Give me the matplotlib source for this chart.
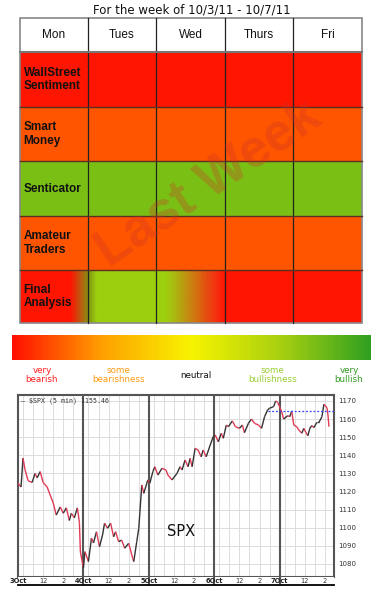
import numpy as np
import matplotlib
matplotlib.use("Agg")
import matplotlib.pyplot as plt
from matplotlib.patches import Rectangle
from matplotlib.collections import LineCollection
from matplotlib.colors import LinearSegmentedColormap

W, H = 378, 593

title = "For the week of 10/3/11 - 10/7/11"
days = ["Mon", "Tues", "Wed", "Thurs", "Fri"]
indicators = ["WallStreet\nSentiment", "Smart\nMoney", "Senticator", "Amateur\nTraders", "Final\nAnalysis"]

RED, ORANGE, GREEN, YGREEN = "#ff1500", "#ff5500", "#7ac014", "#9cd00e"
# each cell: list of colours spread evenly from its left edge to its right edge
cell_colors = [
    [[RED]] * 5,
    [[ORANGE]] * 5,
    [[GREEN]] * 5,
    [[ORANGE]] * 5,
    [
        [RED, RED, RED, RED, RED, RED, RED, "#c85010", "#8a8c12"],
        ["#7e9412", YGREEN, YGREEN, YGREEN, YGREEN, YGREEN, YGREEN, YGREEN, YGREEN],
        [YGREEN, YGREEN, "#aabc10", "#b8a010", "#c88410", "#d86810", "#e84a10", "#f43010", RED],
        [RED],
        [RED],
    ],
]

scale_colors = ["#ff1000", "#ffa000", "#f8f400", "#a8d010", "#30a020"]
scale_labels = ["very\nbearish", "some\nbearishness", "neutral", "some\nbullishness", "very\nbullish"]
scale_label_colors = ["#ff2020", "#ff9a10", "#111111", "#99cc33", "#339922"]

# SPX 5 min, hours since Monday 9:30 open
t_mon = [0.0, 0.3, 0.5, 0.7, 1.0, 1.4, 1.7, 1.9, 2.2, 2.5, 2.9, 3.2, 3.5, 3.8, 4.2, 4.5, 4.8, 5.1, 5.3, 5.6, 5.9, 6.1, 6.2, 6.5]
p_mon = [1124.7, 1122.5, 1138.5, 1132, 1126, 1125, 1130, 1127.5, 1131, 1125, 1122.5, 1118, 1113.7, 1107, 1111.5, 1108, 1111, 1104, 1108, 1105.5, 1111, 1103, 1086.6, 1077.8]
t_tue = [6.65, 7.0, 7.3, 7.5, 7.8, 8.1, 8.4, 8.6, 8.9, 9.2, 9.5, 9.7, 10.0, 10.3, 10.6, 11.0, 11.4, 11.5, 11.8, 12.0, 12.3, 12.5, 12.8]
p_tue = [1086.8, 1081.3, 1094.3, 1091.6, 1097.8, 1089.5, 1096, 1102.5, 1099.7, 1102.5, 1095, 1097.8, 1092.3, 1093.2, 1088.7, 1091.4, 1083.1, 1081.3, 1092.3, 1099.7, 1123.6, 1119, 1124.6]
t_wed = [12.9, 13.1, 13.4, 13.6, 13.9, 14.3, 14.7, 14.9, 15.3, 15.8, 16.1, 16.3, 16.6, 16.9, 17.1, 17.3, 17.6, 17.9, 18.2, 18.4, 18.7, 19.1, 19.4]
p_wed = [1126.4, 1124.6, 1131, 1133.7, 1129.1, 1132.8, 1131.9, 1129.1, 1126.4, 1130, 1133.7, 1131.9, 1137.4, 1133.7, 1138.3, 1133.7, 1143.9, 1142.9, 1139.2, 1142.9, 1139.2, 1145.7, 1150.3]
t_thu = [19.6, 19.9, 20.2, 20.4, 20.7, 20.9, 21.3, 21.6, 22.0, 22.3, 22.5, 22.9, 23.2, 23.5, 23.9, 24.2, 24.5, 24.8, 25.0, 25.4, 25.6, 25.8]
p_thu = [1151.2, 1147.5, 1152.2, 1149.4, 1156.7, 1155.8, 1159, 1155.8, 1154.9, 1156.7, 1152.5, 1157.7, 1160, 1157.7, 1156.7, 1154.9, 1161.3, 1165, 1166, 1166.9, 1170, 1169.3]
t_fri = [26.2, 26.4, 26.8, 27.0, 27.2, 27.4, 27.7, 27.9, 28.2, 28.4, 28.6, 28.8, 29.0, 29.2, 29.4, 29.7, 29.9, 30.2, 30.4, 30.7, 30.8, 30.9]
p_fri = [1164.1, 1160, 1161.9, 1161.3, 1164.5, 1156.7, 1155.8, 1154, 1152.2, 1154.9, 1152.7, 1150.8, 1154.9, 1156.4, 1155.3, 1158.2, 1158.2, 1161.3, 1168.2, 1166.3, 1162.3, 1155.8]
day_starts = [0, 6.5, 13, 19.5, 26]
day_labels = ["3Oct", "4Oct", "5Oct", "6Oct", "7Oct"]
resistance = 1164.7
resistance_from = 24.8
last_price = 1155.46
yticks = [1080, 1090, 1100, 1110, 1120, 1130, 1140, 1150, 1160, 1170]

fig = plt.figure(figsize=(W / 100, H / 100), dpi=100)
fig.patch.set_facecolor("white")
ov = fig.add_axes([0, 0, 1, 1])
ov.set_xlim(0, W)
ov.set_ylim(H, 0)
ov.axis("off")

ov.text(192, 10, title, ha="center", va="center", fontsize=8.5, family="DejaVu Sans", color="#111111")

# table
col_x = [20, 88, 156, 225, 293, 362]
row_y = [18, 52, 107, 161, 216, 270, 323]
for r, row in enumerate(cell_colors):
    y0, y1 = row_y[r + 1], row_y[r + 2]
    for c, cols in enumerate(row):
        x0, x1 = col_x[c], col_x[c + 1]
        if len(cols) == 1:
            ov.add_patch(Rectangle((x0, y0), x1 - x0, y1 - y0, facecolor=cols[0], edgecolor="none"))
        else:
            cmap = LinearSegmentedColormap.from_list("g", cols)
            ov.imshow(np.linspace(0, 1, 200)[None, :], cmap=cmap, extent=(x0, x1, y1, y0),
                      aspect="auto", interpolation="bilinear")
    ov.text(col_x[0] + 3.5, (y0 + y1) / 2, indicators[r], ha="left", va="center", fontsize=8.5,
            fontweight="bold", family="Liberation Sans", linespacing=1.2, color="#111111")

for c, d in enumerate(days):
    ov.text((col_x[c] + col_x[c + 1]) / 2, (row_y[0] + row_y[1]) / 2, d, ha="center", va="center",
            fontsize=8.5, family="Liberation Sans", color="#111111")

for x in col_x[1:-1]:
    ov.plot([x, x], [row_y[0], row_y[-1]], color="#222222", lw=0.9)
for y in row_y[2:-1]:
    ov.plot([col_x[0], col_x[-1]], [y, y], color="#5a3020", lw=1.0)
ov.plot([col_x[0], col_x[-1]], [row_y[1], row_y[1]], color="#777777", lw=1.5)
ov.add_patch(Rectangle((col_x[0], row_y[0]), col_x[-1] - col_x[0], row_y[-1] - row_y[0],
                       facecolor="none", edgecolor="#888888", lw=1.2))

ov.text(208, 183, "Last Week", rotation=34, ha="center", va="center", fontsize=38, fontweight="bold",
        family="Liberation Sans", color=(0.8, 0.2, 0.15), alpha=0.3)

# sentiment scale
scale_cmap = LinearSegmentedColormap.from_list("scale", scale_colors)
ov.imshow(np.linspace(0, 1, 300)[None, :], cmap=scale_cmap, extent=(12, 371, 360, 335),
          aspect="auto", interpolation="bilinear")
for i, (lab, col) in enumerate(zip(scale_labels, scale_label_colors)):
    x = 42 + i * (349 - 42) / 4
    ov.text(x, 375, lab, ha="center", va="center", fontsize=6.3, color=col,
            family="DejaVu Sans", linespacing=1.05)
ov.set_xlim(0, W)
ov.set_ylim(H, 0)

# SPX chart
t = np.array(t_mon + t_tue + t_wed + t_thu + t_fri)
p = np.array(p_mon + p_tue + p_wed + p_thu + p_fri)
ax = fig.add_axes([18 / W, 1 - 577 / H, (334 - 18) / W, (577 - 395) / H])
pts = np.column_stack([t, p])
segs = np.stack([pts[:-1], pts[1:]], axis=1)
colors = ["#e03a55" if b < a else "#333333" for a, b in zip(p[:-1], p[1:])]
ax.add_collection(LineCollection(segs, colors=colors, linewidths=1.0, zorder=3))
xmax = 31.4
ax.set_xlim(0, xmax)
ax.set_ylim(1072.8, 1173.3)
hours = [d + h for d in day_starts for h in np.arange(0.5, 6.5, 1.0) if d + h < xmax]
ax.set_xticks(hours)
ax.set_yticks(yticks)
ax.grid(color="#dcdcdc", lw=0.7)
ax.tick_params(length=0, labelbottom=False, labelleft=False, labelright=True, labelsize=5, colors="#333333", pad=3)
for d in day_starts[1:]:
    ax.axvline(d, color="#555555", lw=1.5, zorder=2)
ax.plot([resistance_from, xmax], [resistance, resistance], color="#3344ff", lw=0.9, ls=(0, (1.5, 1.5)), zorder=4)
for s in ax.spines.values():
    s.set_color("#555555")
    s.set_linewidth(1.5)
ax.text(0.008, 0.985, "\u2014 \\$SPX (5 min) %.2f" % last_price, transform=ax.transAxes, ha="left", va="top",
        fontsize=4.8, family="DejaVu Sans Mono", color="#333333")
ax.text(0.517, 0.25, "SPX", transform=ax.transAxes, ha="center", va="center", fontsize=10.5,
        family="DejaVu Sans", color="#111111")
ax.set_xlim(0, xmax)

# date strip under the chart
st = fig.add_axes([18 / W, 1 - 585 / H, (334 - 18) / W, 8 / H])
st.set_xlim(0, xmax)
st.set_ylim(0, 1)
st.set_xticks([])
st.set_yticks([])
for s in st.spines.values():
    s.set_visible(False)
st.spines["bottom"].set_visible(True)
st.spines["bottom"].set_linewidth(1.3)
for d, lab in zip(day_starts, day_labels):
    if d > 0:
        st.axvline(d, color="#555555", lw=1.5)
    st.text(d, 0.45, lab, ha="center", va="center", fontsize=4.8, fontweight="bold", color="#222222")
    for h, hl in [(2.5, "12"), (4.5, "2")]:
        if d + h < xmax:
            st.text(d + h, 0.45, hl, ha="center", va="center", fontsize=4.8, color="#333333")

fig.savefig("out.png", dpi=100)
